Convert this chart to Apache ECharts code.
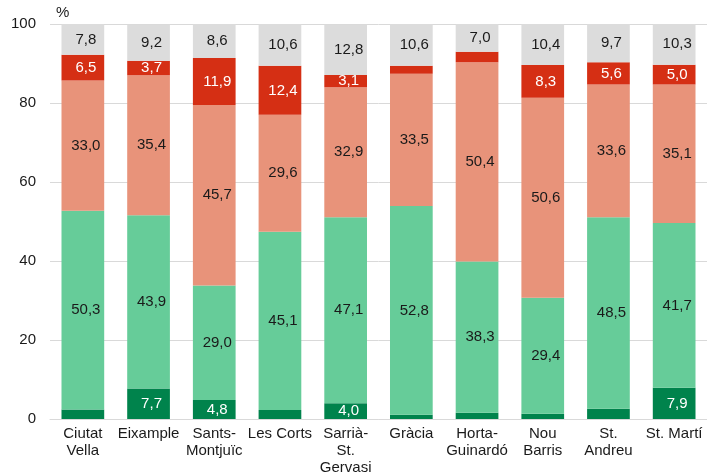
<!DOCTYPE html>
<html><head><meta charset="utf-8">
<script src="https://cdn.jsdelivr.net/npm/echarts@6/dist/echarts.min.js"></script>
<style>html,body{margin:0;padding:0;background:#fff}#c{width:707px;height:476px}</style>
</head><body><div id="c"></div>
<script>
const categories = ["Ciutat\nVella","Eixample","Sants-\nMontjuïc","Les Corts","Sarrià-\nSt.\nGervasi","Gràcia","Horta-\nGuinardó","Nou\nBarris","St.\nAndreu","St. Martí"];
const darkGreen  = [2.4, 7.7, 4.8, 2.3, 4.0, 1.1, 1.6, 1.3, 2.6, 7.9];
const lightGreen = [50.3, 43.9, 29.0, 45.1, 47.1, 52.8, 38.3, 29.4, 48.5, 41.7];
const salmon     = [33.0, 35.4, 45.7, 29.6, 32.9, 33.5, 50.4, 50.6, 33.6, 35.1];
const red        = [6.5, 3.7, 11.9, 12.4, 3.1, 2.0, 2.7, 8.3, 5.6, 5.0];
const grey       = [7.8, 9.2, 8.6, 10.6, 12.8, 10.6, 7.0, 10.4, 9.7, 10.3];
const yTicks = [0, 20, 40, 60, 80, 100];

const FONT = 'Liberation Sans, Arial, sans-serif';
function mk(name, data, color, labelColor) {
  return {
    name, type: 'bar', stack: 'a', data, barWidth: '65%',
    itemStyle: { color },
    label: {
      show: true, color: labelColor, fontFamily: FONT, fontSize: 15,
      offset: [3, 0],
      formatter: p => p.value >= 3 ? p.value.toFixed(1).replace('.', ',') : ''
    },
    emphasis: { disabled: true }
  };
}
const chart = echarts.init(document.getElementById('c'));
chart.setOption({
  animation: false,
  grid: { left: 50, right: 0, top: 24, bottom: 56 },
  xAxis: {
    type: 'category', data: categories,
    axisLine: { lineStyle: { color: '#d9d9d9', width: 1 } },
    axisTick: { show: false },
    axisLabel: { color: '#1a1a1a', fontFamily: FONT, fontSize: 15, lineHeight: 17, margin: 6, interval: 0 }
  },
  yAxis: {
    type: 'value', min: 0, max: 100, interval: 20,
    axisLine: { show: false }, axisTick: { show: false },
    splitLine: { lineStyle: { color: '#d9d9d9', width: 1 } },
    axisLabel: { color: '#1a1a1a', fontFamily: FONT, fontSize: 15, margin: 14,
      formatter: v => yTicks.includes(v) ? String(v) : '' }
  },
  graphic: [{ type: 'text', left: 56, top: 5, style: { text: '%', fontFamily: FONT, fontSize: 15, fill: '#1a1a1a' } }],
  series: [
    mk('dg', darkGreen, '#00834c', '#ffffff'),
    mk('lg', lightGreen, '#66cc99', '#1a1a1a'),
    mk('sa', salmon, '#e8937a', '#1a1a1a'),
    mk('rd', red, '#d52f14', '#ffffff'),
    mk('gr', grey, '#dcdcdc', '#1a1a1a')
  ]
});
</script></body></html>
